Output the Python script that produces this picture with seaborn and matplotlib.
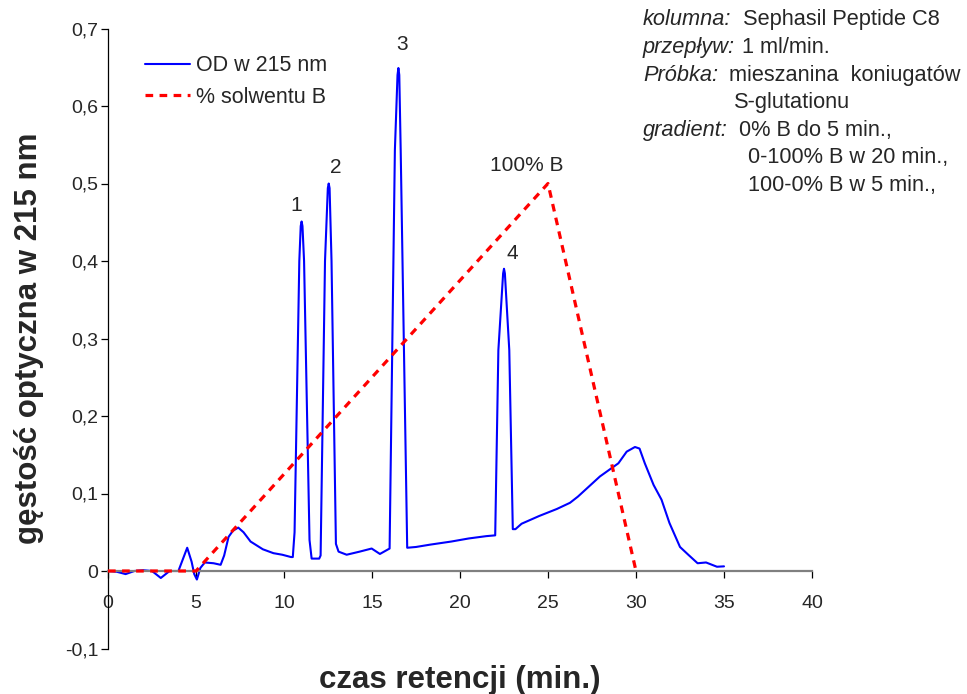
import numpy as np
import pandas as pd
import seaborn as sns
import matplotlib.pyplot as plt
from matplotlib.ticker import FuncFormatter

# chromatogram, OD at 215 nm
time_min = [0, 0.5, 1.0, 1.5, 2.0, 2.5, 3.0, 3.5, 4.0, 4.25, 4.5, 4.75, 4.9, 5.05,
            5.25, 5.5, 6.0, 6.4, 6.6, 6.85, 7.1, 7.4, 7.7, 8.1, 8.8, 9.4, 9.9,
            10.4, 10.5, 10.6, 10.87, 10.95, 11.0, 11.05, 11.14, 11.45, 11.57, 12.0,
            12.08, 12.33, 12.49, 12.54, 12.59, 12.7, 12.95, 13.1, 13.56, 14.3, 14.98,
            15.45, 16.0, 16.3, 16.45, 16.5, 16.55, 16.63, 17.0, 17.5, 18.3, 19.5,
            20.5, 21.5, 22.0, 22.18, 22.45, 22.5, 22.55, 22.8, 23.0, 23.15, 23.5,
            24.5, 25.5, 26.25, 26.7, 27.95, 29.0, 29.47, 29.94, 30.2, 30.5, 31.0,
            31.45, 31.9, 32.5, 32.97, 33.5, 33.98, 34.6, 35.0]
od_215 = [0.0, -0.001, -0.004, 0.0, 0.001, 0.0, -0.009, 0.0, 0.0, 0.015, 0.030, 0.012,
          -0.004, -0.011, 0.004, 0.011, 0.010, 0.008, 0.020, 0.044, 0.052, 0.056, 0.050,
          0.038, 0.028, 0.023, 0.021, 0.018, 0.018, 0.050, 0.400, 0.445, 0.451, 0.445,
          0.400, 0.040, 0.016, 0.016, 0.020, 0.400, 0.494, 0.500, 0.494, 0.400, 0.035,
          0.025, 0.021, 0.025, 0.029, 0.022, 0.029, 0.543, 0.640, 0.649, 0.640, 0.543,
          0.030, 0.031, 0.034, 0.038, 0.042, 0.045, 0.046, 0.285, 0.384, 0.390, 0.384,
          0.285, 0.054, 0.054, 0.061, 0.071, 0.080, 0.088, 0.096, 0.122, 0.139, 0.154,
          0.160, 0.158, 0.139, 0.111, 0.092, 0.062, 0.031, 0.021, 0.010, 0.011, 0.0055,
          0.006]

# gradient of solvent B (percent), drawn so that 100% sits at 0.5
grad_time = [0, 5, 25, 30]
grad_pct = [0, 0, 100, 0]
pct_scale = 0.005

peak_labels = ["1", "2", "3", "4"]
peak_label_x = [10.68, 12.95, 16.7, 22.95]
peak_label_y = [0.472, 0.521, 0.679, 0.410]

x_ticks = [0, 5, 10, 15, 20, 25, 30, 35, 40]
y_ticks = [-0.1, 0, 0.1, 0.2, 0.3, 0.4, 0.5, 0.6, 0.7]

od = pd.DataFrame({"t": time_min, "od": od_215})
grad = pd.DataFrame({"t": grad_time, "b": np.array(grad_pct) * pct_scale})

sns.set_style("ticks")
plt.rcParams["font.family"] = ["Liberation Sans", "DejaVu Sans"]

fig = plt.figure(figsize=(9.67, 6.94), dpi=100)
ax = fig.add_axes([108 / 967, 1 - 648.5 / 694, 704 / 967, 620 / 694])

sns.lineplot(data=od, x="t", y="od", ax=ax, color="#0000FF", lw=1.5,
             estimator=None, sort=False, label="OD w 215 nm", zorder=2)
sns.lineplot(data=grad, x="t", y="b", ax=ax, color="#FF0000", lw=2.3,
             linestyle=(0, (2.4, 2.0)), estimator=None, sort=False,
             label="% solwentu B", zorder=3)

ax.set_xlim(0, 40)
ax.set_ylim(-0.1, 0.7)
ax.set_xticks(x_ticks)
ax.set_yticks(y_ticks)
ax.yaxis.set_major_formatter(FuncFormatter(
    lambda v, p: "0" if abs(v) < 1e-9 else f"{v:.1f}".replace(".", ",")))
ax.tick_params(labelsize=14, length=5, width=0.9, color="black")
ax.tick_params(axis="y", pad=2)
ax.tick_params(axis="x", pad=12.5)

for s in ["top", "right"]:
    ax.spines[s].set_visible(False)
ax.spines["bottom"].set_position(("data", 0))
ax.spines["bottom"].set_color("#808080")
ax.spines["bottom"].set_linewidth(1.6)
ax.spines["left"].set_color("black")
ax.spines["left"].set_linewidth(0.9)

ax.set_xlabel("czas retencji (min.)", fontsize=22.5, fontweight="bold")
ax.xaxis.label.set_va("center")
ax.xaxis.set_label_coords(0.5, (648.5 - 680) / 620)
ax.set_ylabel("gęstość optyczna w 215 nm", fontsize=22.5, fontweight="bold")
ax.yaxis.label.set_va("center")
ax.yaxis.set_label_coords((29 - 108) / 704, 0.5)

for lab, lx, ly in zip(peak_labels, peak_label_x, peak_label_y):
    ax.text(lx, ly, lab, fontsize=15, ha="center", va="center")
ax.text(23.8, 0.523, "100% B", fontsize=15, ha="center", va="center")

ax.legend(loc="upper left", bbox_to_anchor=(0.052, 0.957), frameon=False,
          fontsize=15.5, handlelength=2.1, handletextpad=0.3, labelspacing=0.5,
          borderpad=0, borderaxespad=0)

# method description, upper right
note_size = 15.7
rows = [
    (25, "kolumna:", 643, "Sephasil Peptide C8", 743),
    (53, "przepływ:", 643, "1 ml/min.", 742),
    (81, "Próbka:", 643, "mieszanina  koniugatów", 729),
    (108, None, None, "S-glutationu", 734),
    (136, "gradient:", 643, "0% B do 5 min.,", 739),
    (163, None, None, "0-100% B w 20 min.,", 748),
    (191, None, None, "100-0% B w 5 min.,", 748),
]
for y, key, kx, val, vx in rows:
    if key:
        fig.text(kx / 967, 1 - y / 694, key, fontsize=note_size, style="italic",
                 ha="left", va="baseline")
    fig.text(vx / 967, 1 - y / 694, val, fontsize=note_size, ha="left", va="baseline")

fig.savefig("out.png", dpi=100)
